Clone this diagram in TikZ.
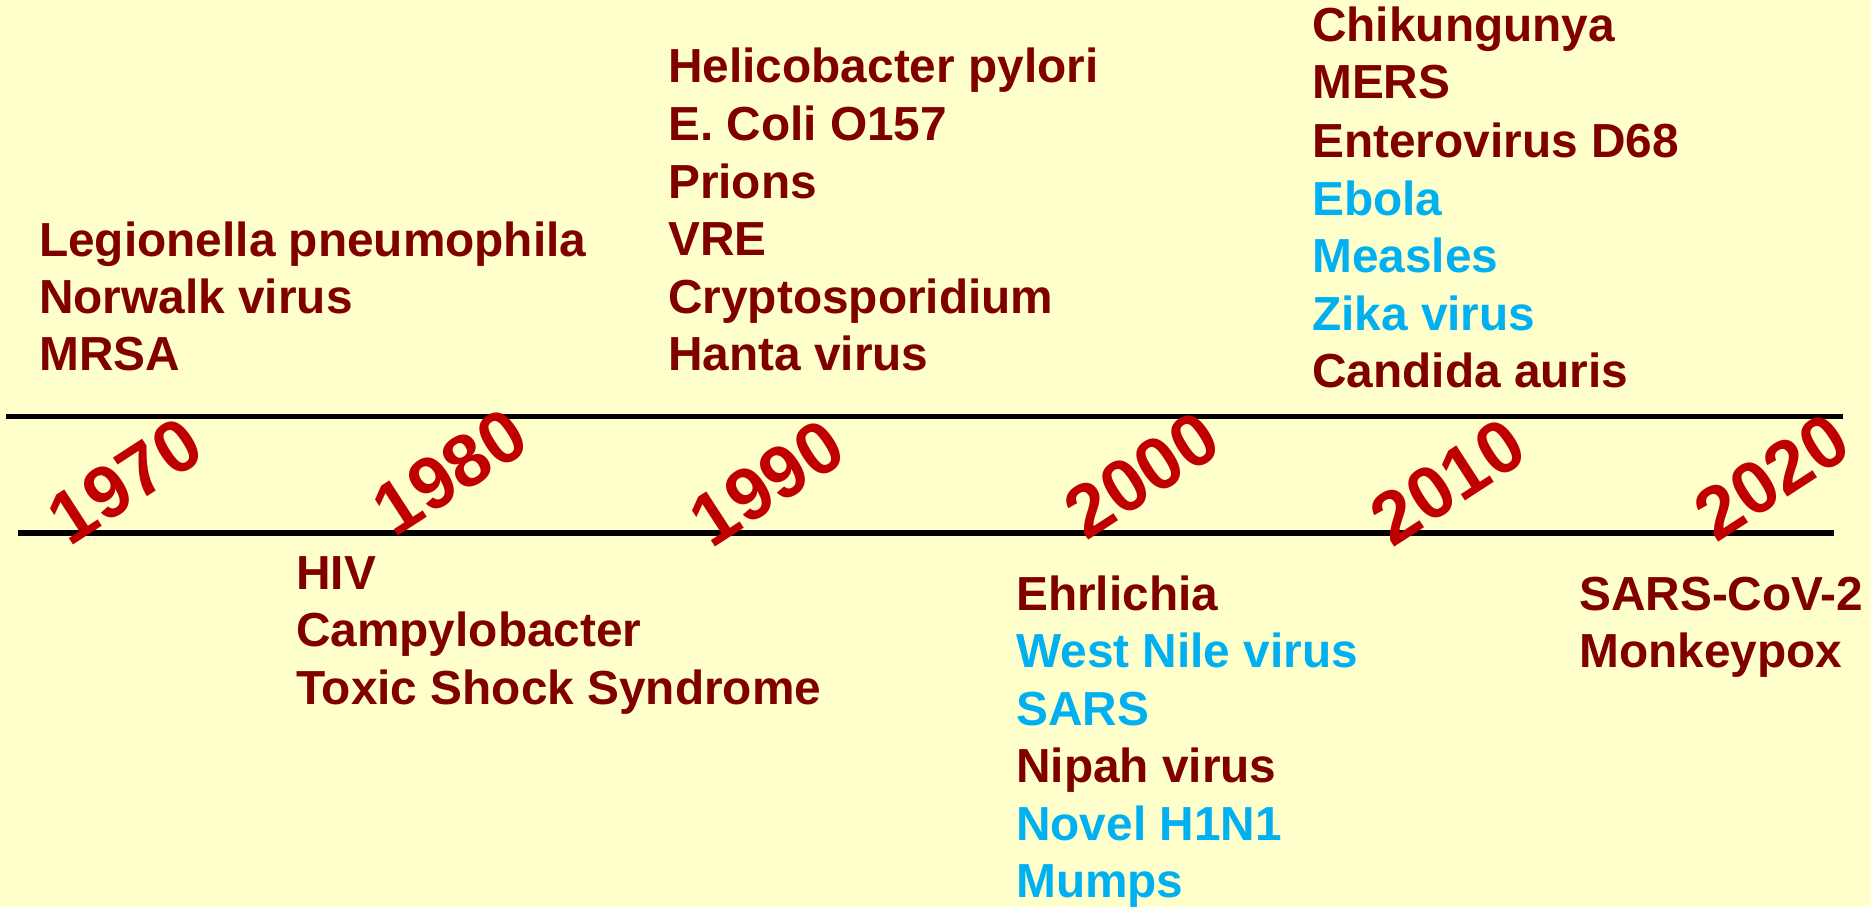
\documentclass[tikz,border=0pt]{standalone}
\usepackage{fontspec}
\setmainfont{Liberation Sans}
\definecolor{bgyellow}{RGB}{255,255,204}
\definecolor{darkmaroon}{RGB}{128,0,0}
\definecolor{skyblue}{RGB}{0,176,240}
\definecolor{yearred}{RGB}{192,0,0}
\begin{document}
\begin{tikzpicture}[x=1pt,y=-1pt,
  item/.style={anchor=base west, inner sep=0pt, font=\fontsize{47.8}{57}\selectfont\bfseries, text=darkmaroon},
  hl/.style={text=skyblue},
  yearlbl/.style={anchor=center, inner sep=0pt, font=\fontsize{74}{74}\selectfont\bfseries, text=yearred, rotate=33},
  rulestyle/.style={line width=5.3pt, black}]
\fill[bgyellow] (0,0) rectangle (1871,907);
\useasboundingbox (0,0) rectangle (1871,907);
% timeline rules
\coordinate (t1) at (6,416.5);
\coordinate (t2) at (1843,416.5);
\coordinate (b1) at (18,533);
\coordinate (b2) at (1834,533);
\draw[rulestyle] (t1) -- (t2);
\draw[rulestyle] (b1) -- (b2);
% years
\node[yearlbl] (y1970) at (125,481) {1970};
\node[yearlbl] (y1980) at (450,472) {1980};
\node[yearlbl] (y1990) at (767,483) {1990};
\node[yearlbl] (y2000) at (1142,475) {2000};
\node[yearlbl] (y2010) at (1448,482) {2010};
\node[yearlbl] (y2020) at (1772,477) {2020};
% 1970s
\node[item] (a1) at (39,256) {Legionella pneumophila};
\node[item] (a2) at (39,313) {Norwalk virus};
\node[item] (a3) at (39,370) {MRSA};
% 1980s
\node[item] (b1t) at (296,589) {HIV};
\node[item] (b2t) at (296,646) {Campylobacter};
\node[item] (b3t) at (296,704) {Toxic Shock Syndrome};
% 1990s
\node[item] (c1) at (668,82) {Helicobacter pylori};
\node[item] (c2) at (668,140) {E. Coli O157};
\node[item] (c3) at (668,198) {Prions};
\node[item] (c4) at (668,255) {VRE};
\node[item] (c5) at (668,313) {Cryptosporidium};
\node[item] (c6) at (668,370) {Hanta virus};
% 2000s
\node[item] (d1) at (1016,610) {Ehrlichia};
\node[item,hl] (d2) at (1016,667) {West Nile virus};
\node[item,hl] (d3) at (1016,725) {SARS};
\node[item] (d4) at (1016,782) {Nipah virus};
\node[item,hl] (d5) at (1016,840) {Novel H1N1};
\node[item,hl] (d6) at (1016,897) {Mumps};
% 2010s
\node[item] (e1) at (1312,42) {Chikungunya};
\node[item] (e2) at (1312,98) {MERS};
\node[item] (e3) at (1312,157) {Enterovirus D68};
\node[item,hl] (e4) at (1312,215) {Ebola};
\node[item,hl] (e5) at (1312,272) {Measles};
\node[item,hl] (e6) at (1312,330) {Zika virus};
\node[item] (e7) at (1312,387) {Candida auris};
% 2020s
\node[item] (f1) at (1579,610) {SARS-CoV-2};
\node[item] (f2) at (1579,667) {Monkeypox};
\end{tikzpicture}
\end{document}
